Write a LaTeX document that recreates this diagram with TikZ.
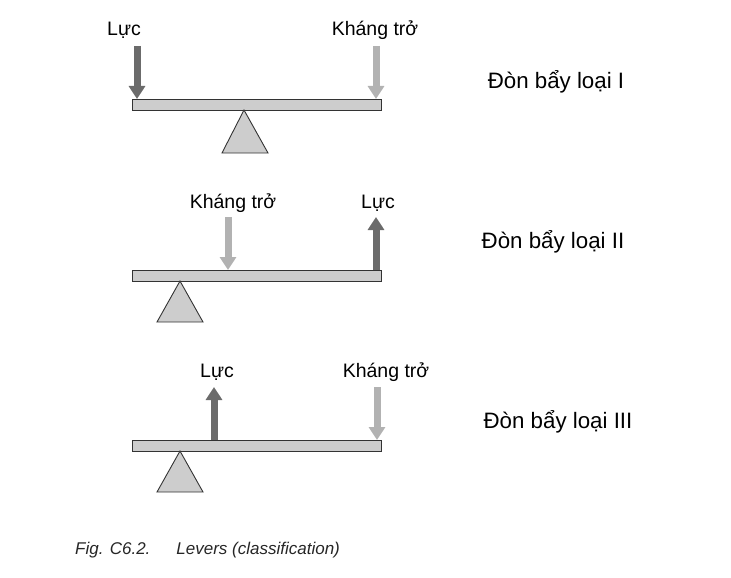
\documentclass[tikz,border=0pt]{standalone}
\usepackage{fontspec}
\setmainfont{Liberation Sans}
\usetikzlibrary{arrows.meta}
\definecolor{darkarr}{HTML}{6B6B6B}
\definecolor{lightarr}{HTML}{B2B2B2}
\definecolor{barfill}{HTML}{CDCDCD}
\begin{document}
\begin{tikzpicture}[x=1pt,y=-1pt,
  barbox/.style={draw=black!80,fill=barfill,line width=0.9pt},
  fulcrum/.style={draw=black!80,fill=barfill,line width=0.9pt},
  forcedark/.style={draw=darkarr,line width=7pt,-{Triangle[width=16pt,length=13pt]}},
  forcelight/.style={draw=lightarr,line width=7pt,-{Triangle[width=16pt,length=13pt]}},
  lbl/.style={font=\fontsize{19.5}{23}\selectfont,inner sep=0pt},
  ttl/.style={font=\fontsize{22.3}{26}\selectfont,inner sep=0pt}]
\useasboundingbox (0,0) rectangle (731,578);
% Lever I
\draw[barbox] (132,99) rectangle (381,110);
\draw[fulcrum] (244,110) -- (268,153) -- (222,153) -- cycle;
\coordinate (a1s) at (137,46); \coordinate (a1e) at (137,99);
\coordinate (b1s) at (376,46); \coordinate (b1e) at (376,99);
\draw[forcedark] (a1s) -- (a1e);
\draw[forcelight] (b1s) -- (b1e);
\node[lbl] (l1) at (124,30) {Lực};
\node[lbl] (k1) at (375,30) {Kháng trở};
\node[ttl] (t1) at (556,82) {Đòn bẩy loại I};
% Lever II
\draw[barbox] (132,270) rectangle (381,281);
\draw[fulcrum] (180,281) -- (203,322) -- (157,322) -- cycle;
\coordinate (b2s) at (228,217); \coordinate (b2e) at (228,270);
\coordinate (a2s) at (376,270); \coordinate (a2e) at (376,217);
\draw[forcelight] (b2s) -- (b2e);
\draw[forcedark] (a2s) -- (a2e);
\node[lbl] (k2) at (233,203) {Kháng trở};
\node[lbl] (l2) at (378,203) {Lực};
\node[ttl] (t2) at (553,242) {Đòn bẩy loại II};
% Lever III
\draw[barbox] (132,440) rectangle (381,451);
\draw[fulcrum] (180,451) -- (203,492) -- (157,492) -- cycle;
\coordinate (a3s) at (214,440); \coordinate (a3e) at (214,387);
\coordinate (b3s) at (377,387); \coordinate (b3e) at (377,440);
\draw[forcedark] (a3s) -- (a3e);
\draw[forcelight] (b3s) -- (b3e);
\node[lbl] (l3) at (217,372) {Lực};
\node[lbl] (k3) at (386,372) {Kháng trở};
\node[ttl] (t3) at (558,422) {Đòn bẩy loại III};
% caption
\node[anchor=west,inner sep=0pt,text=black!85,font=\fontsize{17}{20}\selectfont\itshape] (cap) at (75,550) {Fig. C6.2.\hspace{26pt}Levers (classification)};
\end{tikzpicture}
\end{document}
